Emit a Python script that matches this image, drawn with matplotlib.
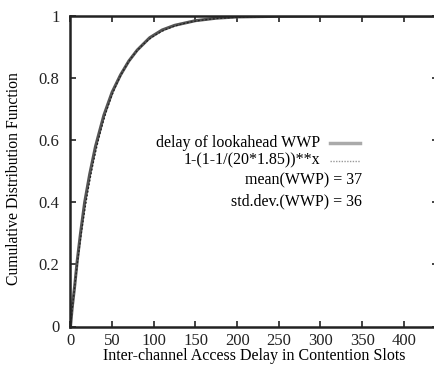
import matplotlib
matplotlib.use("Agg")
import matplotlib.pyplot as plt
import numpy as np

delay = [0, 2, 5, 8, 12, 17, 23, 30, 40, 50, 60, 70, 80, 95, 110, 125, 150, 175, 200, 250, 300, 350, 400, 441]
cdf_wwp = [0.0, 0.06, 0.13, 0.21, 0.30, 0.40, 0.49, 0.58, 0.68, 0.755, 0.81, 0.855, 0.89, 0.93, 0.955, 0.97, 0.985, 0.993, 0.997, 0.999, 1.0, 1.0, 1.0, 1.0]

# model curve from the key: 1-(1-1/(20*1.85))**x
model_label = "1-(1-1/(20*1.85))**x"
p_slot = 1.0 / (20 * 1.85)
x_model = np.arange(0, 442)
cdf_model = 1 - (1 - p_slot) ** x_model

mean_wwp = 37
std_wwp = 36

plt.rcParams["font.family"] = ["Liberation Serif", "DejaVu Serif"]
plt.rcParams["font.size"] = 11

fig = plt.figure(figsize=(4.35, 3.7), dpi=100)
ax = fig.add_axes([70.5 / 435, 43.5 / 370, 367.5 / 435, 310.5 / 370])

ax.plot(delay, cdf_wwp, color="#555555", lw=2.2, solid_capstyle="butt")
ax.plot(x_model, cdf_model, color="#222222", lw=0.9, ls=(0, (1.5, 1.5)))

ax.set_xlim(0, 441)
ax.set_ylim(0, 1)
ax.set_xticks([0, 50, 100, 150, 200, 250, 300, 350, 400])
ax.set_yticks([0, 0.2, 0.4, 0.6, 0.8, 1])
ax.set_yticklabels(["0", "0.2", "0.4", "0.6", "0.8", "1"])
ax.tick_params(direction="in", length=4, width=1.2, top=True, right=True,
               labelsize=12, colors="#222222")
ax.tick_params(axis="x", pad=5)
ax.tick_params(axis="y", pad=8)
for s in ax.spines.values():
    s.set_linewidth(1.8)
    s.set_color("#222222")

ax.set_xlabel("Inter-channel Access Delay in Contention Slots", fontsize=11.5, labelpad=-1)
ax.set_ylabel("Cumulative Distribution Function", fontsize=11.3)
ax.yaxis.set_label_coords(-48 / 367.5, 0.475)

# key, gnuplot style
tx = (320 - 70.5) / 367.5
ty = [(326.5 - 142.7) / 310.5, (326.5 - 160.5) / 310.5, (326.5 - 180) / 310.5, (326.5 - 201.5) / 310.5]
ax.text(tx, ty[0], "delay of lookahead WWP", transform=ax.transAxes, ha="right", va="center", fontsize=11.5)
ax.text(tx, ty[1], model_label, transform=ax.transAxes, ha="right", va="center", fontsize=11.5)
sx0, sx1 = (330 - 70.5) / 367.5, (360 - 70.5) / 367.5
ax.plot([sx0, sx1], [ty[0], ty[0]], transform=ax.transAxes, color="#aaaaaa", lw=2.5)
ax.plot([sx0, sx1], [ty[1], ty[1]], transform=ax.transAxes, color="#999999", lw=1, ls=(0, (1, 1)))
tx2 = (362 - 70.5) / 367.5
ax.text(tx2, ty[2], "mean(WWP) = %d" % mean_wwp, transform=ax.transAxes, ha="right", va="center", fontsize=11.5)
ax.text(tx2, ty[3], "std.dev.(WWP) = %d" % std_wwp, transform=ax.transAxes, ha="right", va="center", fontsize=11.5)

fig.savefig("out.png", dpi=100)
